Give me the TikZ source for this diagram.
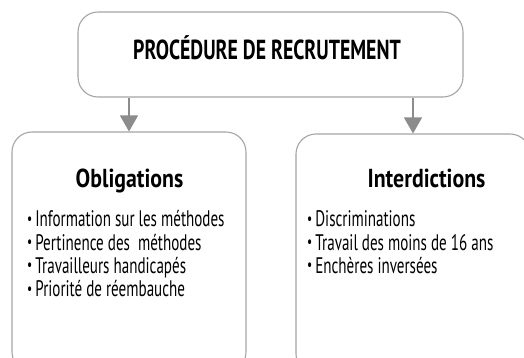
\documentclass[tikz,border=0pt]{standalone}
\usepackage{fontspec}
\setmainfont{PT Sans}[FakeStretch=0.67]
\newfontfamily\headfont{PT Sans}[FakeStretch=0.84]
\newfontfamily\procfont{PT Sans}[FakeStretch=0.72]
\usetikzlibrary{positioning,arrows.meta}
\definecolor{boxgray}{RGB}{165,165,165}
\definecolor{arrowgray}{RGB}{140,140,140}

\newcommand{\itembul}{\raisebox{0.22ex}{\fontsize{17}{17}\selectfont\textbullet}\hspace{3pt}}

\tikzset{
  box/.style={draw=boxgray, line width=1.1pt, rounded corners=20pt, inner sep=0pt},
  headtext/.style={anchor=base, inner sep=0pt, font=\headfont\bfseries\fontsize{26}{30}\selectfont},
  itemtext/.style={anchor=base west, font=\fontsize{22.5}{24}\selectfont, inner sep=0pt},
  arrowline/.style={draw=arrowgray, line width=1.2pt, -{Triangle[length=16pt,width=18pt]}}
}

\begin{document}
\begin{tikzpicture}[x=1pt,y=-1pt]
\useasboundingbox (0,0) rectangle (524,358);

% Boxes
\node[box, minimum width=385pt, minimum height=85pt] (proc) at (270.5,54.5) {};
\node[box, minimum width=234pt, minimum height=240pt] (obl) at (129,252) {};
\node[box, minimum width=234pt, minimum height=240pt] (inter) at (413,254) {};

% Titles
\node[headtext, font=\procfont\bfseries\fontsize{27.5}{30}\selectfont] (proctitle) at (267,60) {PROCÉDURE DE RECRUTEMENT};
\node[headtext] (obltitle) at (129.5,187) {Obligations};
\node[headtext] (intertitle) at (426.5,187) {Interdictions};

% Items
\foreach \txt [count=\i] in {Information sur les méthodes, Pertinence des~ méthodes, Travailleurs handicapés, Priorité de réembauche}
  \node[itemtext] (obl-\i) at (27,203.5+23.3*\i) {\itembul\txt};
\foreach \txt [count=\i] in {Discriminations, Travail des moins de 16 ans, Enchères inversées}
  \node[itemtext] (inter-\i) at (307,203.5+23.3*\i) {\itembul\txt};

% Arrows
\draw[arrowline] (proc.south -| obl.north) -- (obl.north);
\draw[arrowline] (proc.south -| inter.north) -- (inter.north);
\end{tikzpicture}
\end{document}
